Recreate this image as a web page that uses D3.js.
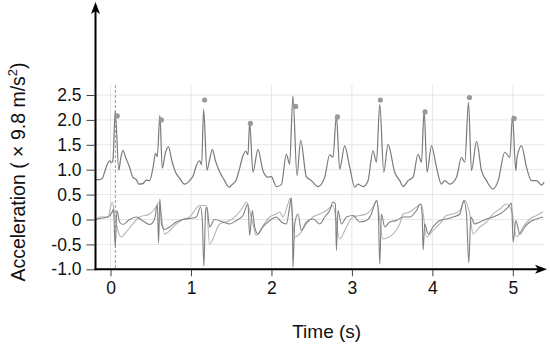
<!DOCTYPE html>
<html><head><meta charset="utf-8">
<script src="https://cdn.jsdelivr.net/npm/d3@7"></script>
<style>
html,body{margin:0;padding:0;background:#fff;}
svg{display:block;font-family:"Liberation Sans",Arial,sans-serif;}
</style></head>
<body><svg id="c" width="550" height="347"></svg>
<script>
const timeTicks = [0, 1, 2, 3, 4, 5];
const accTicks = [-1.0, -0.5, 0, 0.5, 1.0, 1.5, 2.0, 2.5];
const accTickLabels = ["-1.0", "-0.5", "0", "0.5", "1.0", "1.5", "2.0", "2.5"];
const markerTime = [0.06];

const upperTime = [-0.187,-0.137,-0.10,-0.075,-0.037,-0.012,0.012,0.029,0.058,0.103,0.124,0.153,0.187,0.236,0.277,0.320,0.352,0.402,0.444,0.485,0.526,0.560,0.581,0.613,0.643,0.684,0.721,0.759,0.808,0.858,0.920,0.983,1.032,1.066,1.107,1.132,1.157,1.198,1.231,1.266,1.300,1.350,1.410,1.473,1.51,1.563,1.60,1.646,1.68,1.708,1.729,1.770,1.832,1.894,1.957,1.998,2.061,2.123,2.185,2.226,2.267,2.317,2.363,2.434,2.496,2.578,2.662,2.724,2.765,2.807,2.848,2.910,2.973,3.035,3.076,3.138,3.200,3.262,3.305,3.346,3.396,3.449,3.532,3.595,3.636,3.698,3.760,3.822,3.865,3.897,3.934,3.989,4.051,4.113,4.154,4.216,4.300,4.362,4.403,4.449,4.486,4.549,4.611,4.673,4.755,4.818,4.900,4.963,4.996,5.037,5.053,5.108,5.170,5.233,5.295,5.357,5.39];
const upperAcc = [0.80,0.80,0.83,0.95,1.12,1.18,1.14,1.18,2.17,0.99,1.2,1.39,1.25,1.05,0.85,0.80,0.71,0.72,0.79,0.78,1.02,1.33,1.26,2.09,1.03,1.35,1.46,1.2,0.95,0.83,0.71,0.78,0.9,1.08,1.18,1.1,2.21,0.99,1.2,1.41,1.2,0.98,0.8,0.65,0.7,0.8,1.0,1.28,1.37,1.3,1.95,0.95,1.41,0.98,0.85,0.86,0.66,0.7,1.31,1.11,2.48,0.88,1.59,0.86,0.78,0.66,0.85,1.3,1.25,2.08,1.01,1.48,1.05,0.65,0.71,0.66,0.78,1.38,1.15,2.31,0.95,1.51,0.95,0.78,0.66,0.78,0.85,1.31,1.15,2.18,0.95,1.48,1.05,0.71,0.78,0.71,0.85,1.25,1.15,2.35,0.98,1.57,0.98,0.78,0.61,0.78,1.35,1.25,2.08,0.98,1.25,1.48,1.05,0.78,0.78,0.69,0.75];

const peakTime = [0.083, 0.631, 1.169, 1.738, 2.301, 2.820, 3.354, 3.909, 4.461, 5.016];
const peakAcc = [2.08, 2.00, 2.40, 1.93, 2.27, 2.06, 2.40, 2.16, 2.45, 2.03];

const darkTime = [-0.187,-0.137,-0.033,0.021,0.037,0.058,0.079,0.112,0.153,0.236,0.320,0.402,0.485,0.547,0.581,0.597,0.613,0.634,0.672,0.734,0.817,0.900,0.983,1.066,1.119,1.14,1.160,1.182,1.198,1.231,1.294,1.397,1.480,1.563,1.646,1.708,1.729,1.762,1.791,1.832,1.894,1.978,2.061,2.123,2.185,2.226,2.247,2.26,2.267,2.289,2.330,2.371,2.434,2.516,2.600,2.662,2.724,2.765,2.795,2.807,2.827,2.869,2.932,3.014,3.097,3.180,3.242,3.284,3.312,3.33,3.346,3.367,3.408,3.470,3.553,3.636,3.719,3.802,3.852,3.873,3.885,3.905,3.947,4.009,4.092,4.175,4.257,4.341,4.391,4.424,4.453,4.478,4.527,4.590,4.673,4.755,4.838,4.942,4.984,5.004,5.037,5.087,5.149,5.211,5.295,5.377];
const darkAcc = [0.0,0.02,0.05,0.15,0.21,-0.55,0.18,-0.05,-0.1,0.0,0.05,-0.03,-0.1,0.0,0.3,-0.47,0.41,-0.1,-0.2,-0.15,-0.05,0.0,0.02,0.05,0.25,0.0,-0.94,0.2,0.25,-0.15,0.0,-0.05,-0.09,-0.02,0.08,0.31,-0.32,0.18,-0.15,-0.29,-0.15,-0.02,0.05,-0.05,-0.09,0.25,0.43,0.0,-0.97,-0.09,0.11,-0.22,-0.05,0.01,-0.09,0.05,0.18,0.35,0.31,-0.62,0.18,-0.09,0.05,0.08,-0.05,-0.02,0.11,0.31,0.38,0.05,-0.9,0.11,-0.15,-0.05,-0.02,0.05,0.05,0.18,0.31,0.1,-0.61,-0.09,-0.29,-0.15,-0.02,0.01,0.05,0.11,0.38,0.11,-0.87,0.05,-0.09,-0.05,0.01,0.05,0.11,0.25,0.33,-0.45,-0.02,-0.29,-0.15,-0.05,0.01,0.05];

const lightTime = [-0.187,-0.137,-0.033,0.021,0.050,0.091,0.133,0.195,0.277,0.360,0.485,0.567,0.60,0.672,0.817,0.900,0.983,1.107,1.190,1.231,1.356,1.480,1.563,1.646,1.687,1.770,1.812,1.894,1.978,2.061,2.102,2.143,2.205,2.235,2.289,2.351,2.434,2.516,2.600,2.683,2.765,2.848,2.932,3.014,3.097,3.180,3.262,3.305,3.387,3.511,3.595,3.636,3.719,3.802,3.865,3.927,4.009,4.092,4.175,4.257,4.341,4.403,4.465,4.506,4.590,4.673,4.755,4.838,4.922,4.984,5.046,5.128,5.211,5.295,5.377];
const lightAcc = [0.0,0.05,0.05,0.35,0.11,-0.22,-0.35,-0.25,-0.09,0.05,0.11,0.25,0.35,-0.29,-0.09,0.0,0.05,0.28,0.28,-0.49,-0.09,-0.02,0.08,0.25,0.35,-0.09,-0.32,-0.12,0.05,0.11,0.15,0.05,0.31,0.43,-0.35,-0.29,-0.09,0.05,0.11,0.18,0.28,-0.39,-0.15,0.05,0.08,0.11,0.25,0.38,-0.39,-0.29,-0.09,0.11,0.15,0.25,0.31,-0.35,-0.22,-0.09,0.08,0.11,0.18,0.38,0.11,-0.29,-0.15,-0.05,0.11,0.21,0.31,0.18,-0.35,-0.15,0.01,0.08,0.15];

const svg = d3.select("#c");
const x = d3.scaleLinear().domain([-0.187, 5.4]).range([95.5, 545]);
const y = d3.scaleLinear().domain([-1.0, 2.5]).range([269.3, 95]);
const gridTop = 85;

// grid
svg.append("g").selectAll("line").data(accTicks).join("line")
  .attr("x1", x(-0.187)).attr("x2", x(5.4))
  .attr("y1", d => y(d)).attr("y2", d => y(d))
  .attr("stroke", "#e6e6e6").attr("stroke-width", 1);
svg.append("g").selectAll("line").data(timeTicks).join("line")
  .attr("x1", d => x(d)).attr("x2", d => x(d))
  .attr("y1", gridTop).attr("y2", y(-1.0))
  .attr("stroke", "#e6e6e6").attr("stroke-width", 1);

// marker dashed line
svg.append("g").selectAll("line").data(markerTime).join("line")
  .attr("x1", d => x(d)).attr("x2", d => x(d))
  .attr("y1", gridTop).attr("y2", y(-1.0))
  .attr("stroke", "#999").attr("stroke-width", 1).attr("stroke-dasharray", "3,2");

const line = d3.line().curve(d3.curveMonotoneX).x(d => x(d[0])).y(d => y(d[1]));
const zip = (a, b) => a.map((t, i) => [t, b[i]]);

svg.append("path").datum(zip(lightTime, lightAcc)).attr("d", line)
  .attr("fill", "none").attr("stroke", "#b4b4b4").attr("stroke-width", 1.1);
svg.append("path").datum(zip(darkTime, darkAcc)).attr("d", line)
  .attr("fill", "none").attr("stroke", "#808080").attr("stroke-width", 1.1);
svg.append("path").datum(zip(upperTime, upperAcc)).attr("d", line)
  .attr("fill", "none").attr("stroke", "#7a7a7a").attr("stroke-width", 1.2);

svg.append("g").selectAll("circle").data(zip(peakTime, peakAcc)).join("circle")
  .attr("cx", d => x(d[0])).attr("cy", d => y(d[1])).attr("r", 2.6)
  .attr("fill", "#999");

// axes
const xAxis = d3.axisBottom(x).tickValues(timeTicks).tickSize(7).tickPadding(5).tickFormat(d3.format("d"));
const gx = svg.append("g").attr("transform", `translate(0,${y(-1.0)})`).call(xAxis);
gx.select(".domain").remove();
gx.selectAll(".tick line").attr("stroke", "#444");
gx.selectAll(".tick text").attr("font-size", 17.5).attr("fill", "#111").attr("font-family", "Liberation Sans, Arial, sans-serif");

const yAxis = d3.axisLeft(y).tickValues(accTicks).tickSize(8).tickPadding(5).tickFormat((d, i) => accTickLabels[i]);
const gy = svg.append("g").attr("transform", `translate(${x(-0.187) - 1},0)`).call(yAxis);
gy.select(".domain").remove();
gy.selectAll(".tick line").attr("stroke", "#444");
gy.selectAll(".tick text").attr("font-size", 17.5).attr("fill", "#111").attr("font-family", "Liberation Sans, Arial, sans-serif");

// axis lines with arrows
const x0 = x(-0.187), yb = y(-1.0);
svg.append("line").attr("x1", x0).attr("y1", yb + 1).attr("x2", x0).attr("y2", 8)
  .attr("stroke", "#000").attr("stroke-width", 2);
svg.append("line").attr("x1", x0 - 1).attr("y1", yb).attr("x2", 542).attr("y2", yb)
  .attr("stroke", "#000").attr("stroke-width", 2);
svg.append("path").attr("d", `M${x0-4.5},${14} L${x0},${2} L${x0+4.5},${14} L${x0},${11} Z`)
  .attr("fill", "#000");
svg.append("path").attr("d", `M${535},${yb-4.5} L${547},${yb} L${535},${yb+4.5} L${538},${yb} Z`)
  .attr("fill", "#000");

// titles
svg.append("text").attr("x", 326.7).attr("y", 338.3).attr("text-anchor", "middle")
  .attr("font-size", 19).attr("fill", "#111").text("Time (s)");
const yt = svg.append("text").attr("transform", "translate(25,172) rotate(-90)")
  .attr("text-anchor", "middle").attr("font-size", 19.5).attr("fill", "#111");
yt.append("tspan").text("Acceleration ( × 9.8 m/s");
yt.append("tspan").attr("font-size", 13).attr("dy", -8).text("2");
yt.append("tspan").attr("dy", 8).text(")");
</script></body></html>
